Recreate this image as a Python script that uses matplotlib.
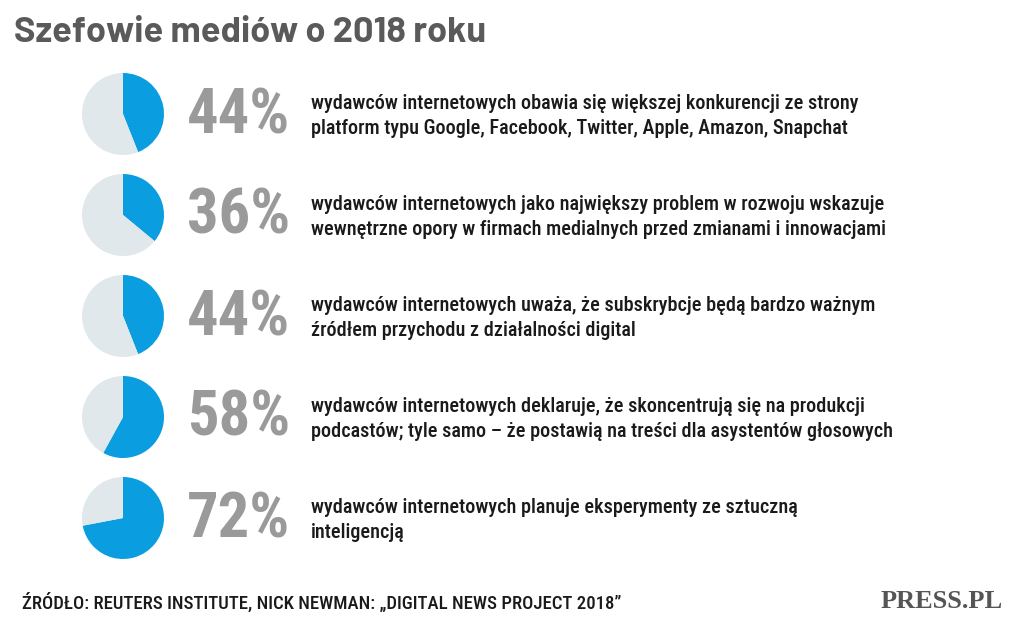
import matplotlib.pyplot as plt

# Data
title = "Szefowie mediów o 2018 roku"
shares = [44, 36, 44, 58, 72]
labels = ["44%", "36%", "44%", "58%", "72%"]
descriptions = [
    "wydawców internetowych obawia się większej konkurencji ze strony\nplatform typu Google, Facebook, Twitter, Apple, Amazon, Snapchat",
    "wydawców internetowych jako największy problem w rozwoju wskazuje\nwewnętrzne opory w firmach medialnych przed zmianami i innowacjami",
    "wydawców internetowych uważa, że subskrybcje będą bardzo ważnym\nźródłem przychodu z działalności digital",
    "wydawców internetowych deklaruje, że skoncentrują się na produkcji\npodcastów; tyle samo – że postawią na treści dla asystentów głosowych",
    "wydawców internetowych planuje eksperymenty ze sztuczną\ninteligencją",
]
source = "ŹRÓDŁO: REUTERS INSTITUTE, NICK NEWMAN: „DIGITAL NEWS PROJECT 2018”"

blue = "#0a9de0"
light = "#e1e8ec"
cond = ["Roboto Condensed", "DejaVu Sans"]

fig = plt.figure(figsize=(10.24, 6.26), dpi=100)
ax = fig.add_axes([0, 0, 1, 1])

top = 114
step = 101
for i, (s, lab, desc) in enumerate(zip(shares, labels, descriptions)):
    cy = top + i * step
    ax.pie([s, 100 - s], colors=[blue, light], startangle=-90, counterclock=True,
           center=(123, cy), radius=41, frame=True,
           wedgeprops=dict(linewidth=0))
    ax.text(187, cy + 2, lab, fontsize=45, fontweight="bold", color="#9a9a9a",
            family=cond, va="center", ha="left")
    ax.text(311, cy + 2, desc, fontsize=14.6, fontweight="medium", color="#1a1a1a",
            family=cond, va="center", ha="left", linespacing=1.38)

ax.set_xlim(0, 1024)
ax.set_ylim(626, 0)
ax.set_aspect("equal")
ax.axis("off")

ax.text(14, 33, title, fontsize=26, fontweight="bold", color="#5a5a5a",
        family=["Barlow", "DejaVu Sans"], va="center", ha="left")
ax.text(22, 603, source, fontsize=13.5, fontweight="medium", color="#1a1a1a",
        family=cond, va="center", ha="left")
ax.text(1003, 601, "PRESS.PL", fontsize=19, fontweight="bold", color="#555555",
        family="Liberation Serif", va="center", ha="right")

fig.savefig("out.png", dpi=100)
